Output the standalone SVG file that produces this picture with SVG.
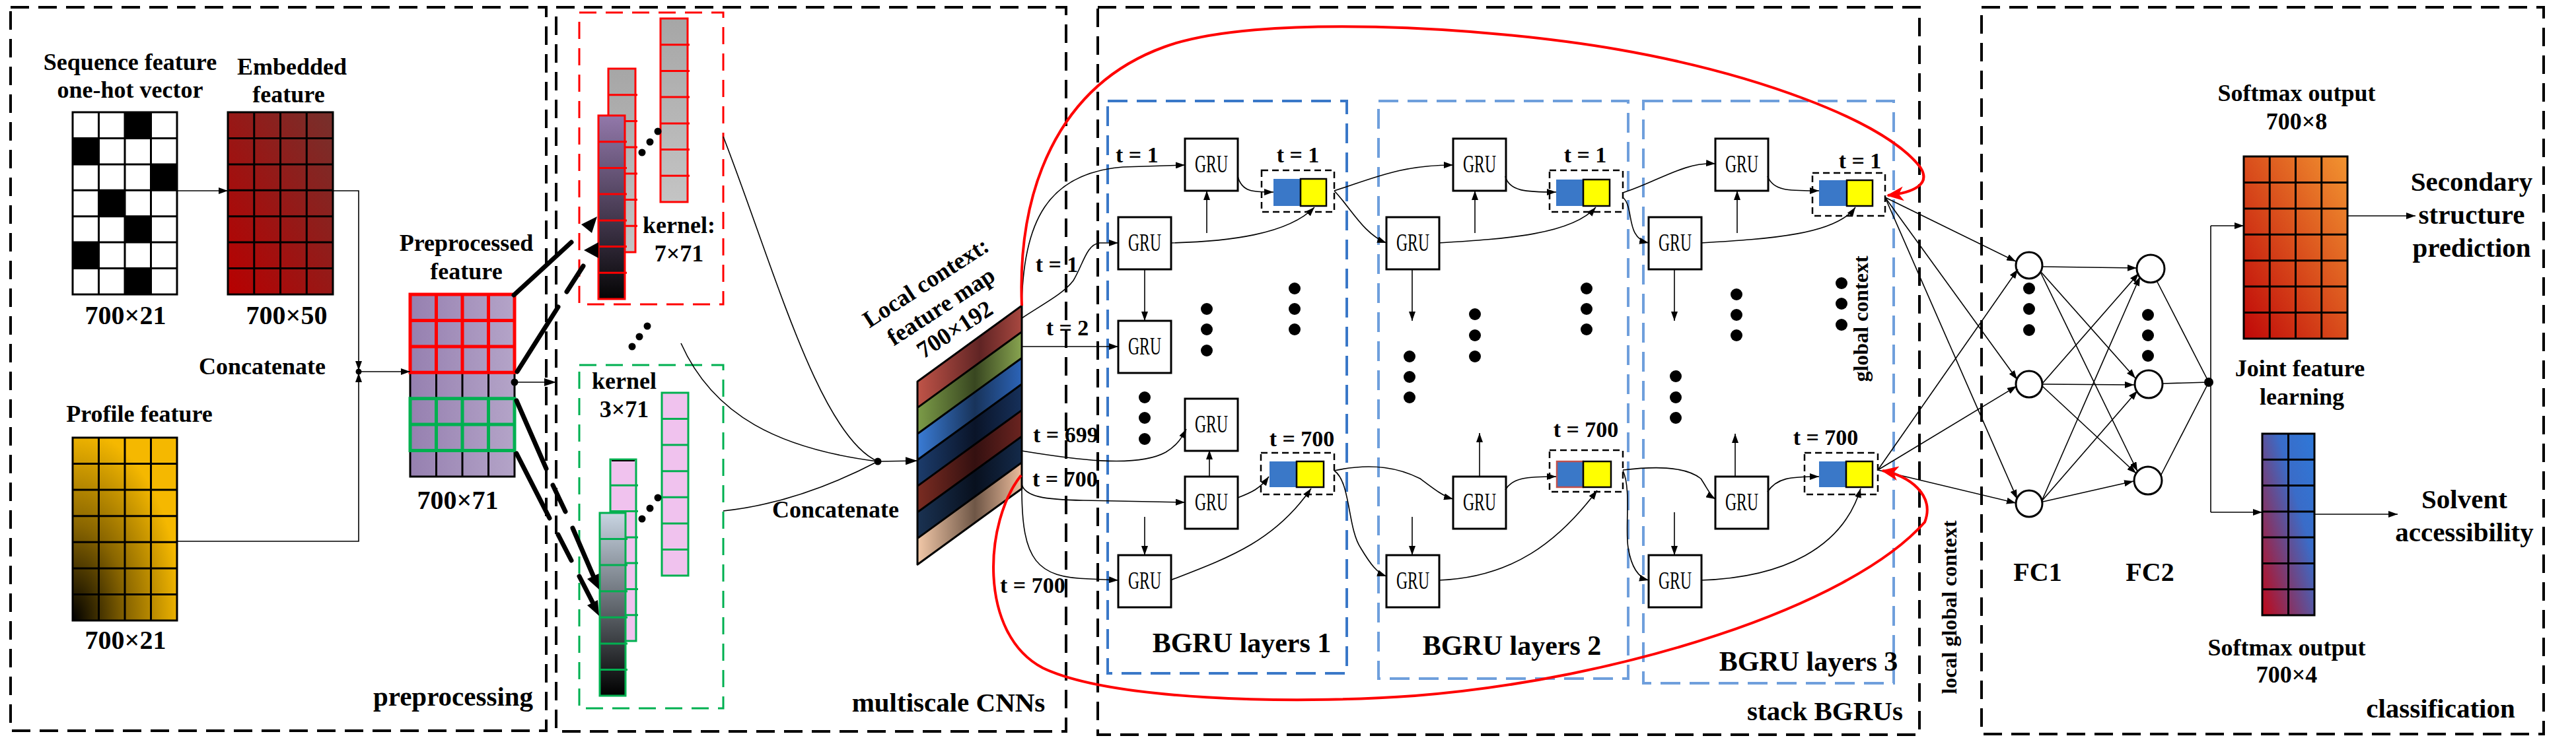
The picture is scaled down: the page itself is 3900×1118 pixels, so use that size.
<svg xmlns="http://www.w3.org/2000/svg" width="3900" height="1118" viewBox="0 0 3900 1118">
<style>
.t{font-family:"Liberation Serif","Times New Roman",serif;font-weight:bold;fill:#000}
.s36{font-size:36px}.s34{font-size:34px}.s40{font-size:40px}.s41{font-size:41px}.s42{font-size:42px}.s32{font-size:32px}
.m{text-anchor:middle}
.gru{font-family:"Liberation Serif","Times New Roman",serif;font-size:37px;text-anchor:middle}
.box{fill:none;stroke:#000;stroke-width:4;stroke-dasharray:28 14}
.rb{fill:none;stroke:#f00;stroke-width:3;stroke-dasharray:26 14}
.gb{fill:none;stroke:#00b050;stroke-width:3;stroke-dasharray:26 14}
.l1{fill:none;stroke:#3a78c8;stroke-width:4;stroke-dasharray:30 14}
.l2{fill:none;stroke:#6f9fdc;stroke-width:4;stroke-dasharray:30 14}
.ln{fill:none;stroke:#000;stroke-width:1.6}
.ar{marker-end:url(#a)}
.gr{fill:none;stroke:#000;stroke-width:3}
.g{fill:#fff;stroke:#000;stroke-width:3}
.ob{fill:none;stroke:#000;stroke-width:2.5;stroke-dasharray:10 6}
.bl{fill:#3a78c8}
.ye{fill:#ff0;stroke:#000;stroke-width:2.5}
.th{stroke:#000;stroke-width:7;stroke-linecap:round}
.red{fill:none;stroke:#f00;stroke-width:4}
.nd{fill:#fff;stroke:#000;stroke-width:3}
</style>
<defs>
<marker id="a" viewBox="0 0 14 10" refX="14" refY="5" markerWidth="14" markerHeight="10" markerUnits="userSpaceOnUse" orient="auto"><path d="M0,0L14,5L0,10z" fill="#000"/></marker>
<marker id="ab" viewBox="0 0 18 12" refX="18" refY="6" markerWidth="18" markerHeight="12" markerUnits="userSpaceOnUse" orient="auto"><path d="M0,0L18,6L0,12z" fill="#000"/></marker>
<marker id="arr" viewBox="0 0 26 22" refX="24" refY="11" markerWidth="26" markerHeight="22" markerUnits="userSpaceOnUse" orient="auto"><path d="M0,0L26,11L0,22L7,11z" fill="#f00"/></marker>
<linearGradient id="gEmb" x1="0" y1="1" x2="1" y2="0"><stop offset="0" stop-color="#b80000"/><stop offset="1" stop-color="#76302c"/></linearGradient>
<radialGradient id="gProf" cx="0" cy="1" r="1.05"><stop offset="0" stop-color="#000"/><stop offset="0.5" stop-color="#8a6600"/><stop offset="1" stop-color="#f5b800"/></radialGradient>
<linearGradient id="gPre" x1="0" y1="0" x2="1" y2="0"><stop offset="0" stop-color="#9680b0"/><stop offset="1" stop-color="#b4a4c8"/></linearGradient>
<linearGradient id="gGray" x1="0" y1="0" x2="0" y2="1"><stop offset="0" stop-color="#a6a6a6"/><stop offset="1" stop-color="#c4c4c4"/></linearGradient>
<linearGradient id="gPur" x1="0" y1="0" x2="0" y2="1"><stop offset="0" stop-color="#9278aa"/><stop offset="1" stop-color="#050505"/></linearGradient>
<linearGradient id="gGrn" x1="0" y1="0" x2="0" y2="1"><stop offset="0" stop-color="#c8d4e2"/><stop offset="1" stop-color="#000"/></linearGradient>
<linearGradient id="b0"><stop offset="0" stop-color="#c05448"/><stop offset="0.6" stop-color="#602424"/><stop offset="1" stop-color="#a84840"/></linearGradient>
<linearGradient id="b1"><stop offset="0" stop-color="#7c9c48"/><stop offset="0.55" stop-color="#384620"/><stop offset="1" stop-color="#88a450"/></linearGradient>
<linearGradient id="b2"><stop offset="0" stop-color="#3a7cd6"/><stop offset="0.55" stop-color="#18335a"/><stop offset="1" stop-color="#2c64b8"/></linearGradient>
<linearGradient id="b3"><stop offset="0" stop-color="#1c3c6c"/><stop offset="0.55" stop-color="#0a1428"/><stop offset="1" stop-color="#16305a"/></linearGradient>
<linearGradient id="b4"><stop offset="0" stop-color="#7a2c22"/><stop offset="0.55" stop-color="#341010"/><stop offset="1" stop-color="#6a2420"/></linearGradient>
<linearGradient id="b5"><stop offset="0" stop-color="#1a3252"/><stop offset="0.55" stop-color="#08101e"/><stop offset="1" stop-color="#142a4a"/></linearGradient>
<linearGradient id="b6"><stop offset="0" stop-color="#f2c8a8"/><stop offset="0.55" stop-color="#6e5646"/><stop offset="1" stop-color="#ecbc9c"/></linearGradient>
<linearGradient id="gSm1" x1="0" y1="1" x2="1" y2="0"><stop offset="0" stop-color="#c00808"/><stop offset="1" stop-color="#f29430"/></linearGradient>
<linearGradient id="gSm2" x1="0" y1="1" x2="1" y2="0"><stop offset="0" stop-color="#c00818"/><stop offset="0.65" stop-color="#3a6cc8"/><stop offset="1" stop-color="#2e78d8"/></linearGradient>
</defs>

<!-- panels -->
<g id="panels">
<rect class="box" x="16" y="11" width="811" height="1096"/>
<rect class="box" x="842" y="11" width="772" height="1097"/>
<rect class="box" x="1662" y="11" width="1244" height="1102"/>
<rect class="box" x="3000" y="11" width="851" height="1101"/>
<text class="t s41 m" x="686" y="1069">preprocessing</text>
<text class="t s41 m" x="1436" y="1078">multiscale CNNs</text>
<text class="t s41 m" x="2763" y="1091">stack BGRUs</text>
<text class="t s41 m" x="3695" y="1087">classification</text>
</g>

<!-- preprocessing -->
<g id="seq">
<text class="t s36 m" x="197" y="106">Sequence feature</text>
<text class="t s36 m" x="197" y="148">one-hot vector</text>
<rect x="110" y="170" width="158" height="276" fill="#fff"/>
<g fill="#000">
<rect x="189" y="170" width="39.5" height="39.4"/>
<rect x="110" y="209.4" width="39.5" height="39.4"/>
<rect x="228.5" y="248.9" width="39.5" height="39.4"/>
<rect x="149.5" y="288.3" width="39.5" height="39.4"/>
<rect x="189" y="327.7" width="39.5" height="39.4"/>
<rect x="110" y="367.1" width="39.5" height="39.4"/>
<rect x="189" y="406.6" width="39.5" height="39.4"/>
</g>
<path class="gr" d="M110,170h158v276h-158z M149.5,170v276 M189,170v276 M228.5,170v276 M110,209.4h158 M110,248.9h158 M110,288.3h158 M110,327.7h158 M110,367.1h158 M110,406.6h158"/>
<text class="t s40 m" x="190" y="491">700×21</text>
</g>

<g id="emb">
<text class="t s36 m" x="442" y="113">Embedded</text>
<text class="t s36 m" x="437" y="155">feature</text>
<rect x="345" y="170" width="159" height="276" fill="url(#gEmb)"/>
<path class="gr" d="M345,170h159v276h-159z M384.75,170v276 M424.5,170v276 M464.25,170v276 M345,209.4h159 M345,248.9h159 M345,288.3h159 M345,327.7h159 M345,367.1h159 M345,406.6h159"/>
<text class="t s40 m" x="434" y="491">700×50</text>
</g>

<g id="prof">
<text class="t s36 m" x="211" y="639">Profile feature</text>
<rect x="110" y="663" width="158" height="277" fill="url(#gProf)"/>
<path class="gr" d="M110,663h158v277h-158z M149.5,663v277 M189,663v277 M228.5,663v277 M110,702.6h158 M110,742.1h158 M110,781.7h158 M110,821.3h158 M110,860.9h158 M110,900.4h158"/>
<text class="t s40 m" x="190" y="983">700×21</text>
</g>

<g id="pre">
<text class="t s36 m" x="706" y="380">Preprocessed</text>
<text class="t s36 m" x="706" y="423">feature</text>
<rect x="621" y="446" width="158" height="276" fill="url(#gPre)"/>
<path class="gr" d="M621,446h158v276h-158z M660.5,446v276 M700,446v276 M739.5,446v276 M621,485.4h158 M621,524.9h158 M621,564.3h158 M621,603.7h158 M621,643.1h158 M621,682.6h158"/>
<path fill="none" stroke="#f00" stroke-width="5" d="M621,446h158v118.3h-158z M660.5,446v118.3 M700,446v118.3 M739.5,446v118.3 M621,485.4h158 M621,524.9h158"/>
<path fill="none" stroke="#00b050" stroke-width="5" d="M621,603.7h158v78.9h-158z M660.5,603.7v78.9 M700,603.7v78.9 M739.5,603.7v78.9 M621,643.1h158"/>
<text class="t s40 m" x="693" y="771">700×71</text>
</g>
<text class="t s36 m" x="397" y="567">Concatenate</text>

<!-- multiscale CNN -->
<g id="k7">
<rect class="rb" x="877" y="19" width="218" height="442"/>
<rect x="1000" y="28" width="41" height="278" fill="url(#gGray)"/>
<path fill="none" stroke="#f00" stroke-width="3" d="M1000,28h41v278h-41z M1000,67.7h44 M1000,107.4h44 M1000,147.1h44 M1000,186.9h44 M1000,226.6h44 M1000,266.3h44"/>
<rect x="921" y="104" width="41" height="278" fill="url(#gGray)"/>
<path fill="none" stroke="#f00" stroke-width="3" d="M921,104h41v278h-41z M921,143.7h44 M921,183.4h44 M921,223.1h44 M921,262.9h44 M921,302.6h44 M921,342.3h44"/>
<rect x="906" y="175" width="40" height="278" fill="url(#gPur)"/>
<path fill="none" stroke="#f00" stroke-width="3" d="M906,175h40v278h-40z M906,214.7h43 M906,254.4h43 M906,294.1h43 M906,333.9h43 M906,373.6h43 M906,413.3h43"/>
<circle cx="972" cy="231" r="5.5"/><circle cx="984" cy="215" r="5.5"/><circle cx="996" cy="199" r="5.5"/>
<text class="t s36 m" x="1028" y="353">kernel:</text>
<text class="t s36 m" x="1028" y="396">7×71</text>
</g>
<g id="kdots"><circle cx="957" cy="525" r="5.5"/><circle cx="968" cy="510" r="5.5"/><circle cx="980" cy="494" r="5.5"/></g>
<g id="k3">
<rect class="gb" x="877" y="553" width="218" height="520"/>
<rect x="1002" y="595" width="40" height="277" fill="#f0c2ee"/>
<path fill="none" stroke="#00b050" stroke-width="3" d="M1002,595h40v277h-40z M1002,634.6h40 M1002,674.1h40 M1002,713.7h40 M1002,753.3h40 M1002,792.9h40 M1002,832.4h40"/>
<rect x="924" y="696" width="39" height="275" fill="#f0c2ee"/>
<path fill="none" stroke="#00b050" stroke-width="3" d="M924,696h39v275h-39z M924,735.3h42 M924,774.6h42 M924,813.9h42 M924,853.1h42 M924,892.4h42 M924,931.7h42"/>
<line x1="926" y1="698" x2="961" y2="698" stroke="#000" stroke-width="2"/>
<rect x="908" y="777" width="39" height="277" fill="url(#gGrn)"/>
<path fill="none" stroke="#00b050" stroke-width="3" d="M908,777h39v277h-39z M908,816.6h42 M908,856.1h42 M908,895.7h42 M908,935.3h42 M908,974.9h42 M908,1014.4h42"/>
<circle cx="972" cy="786" r="5.5"/><circle cx="984" cy="770" r="5.5"/><circle cx="996" cy="754" r="5.5"/>
<text class="t s36 m" x="945" y="589">kernel</text>
<text class="t s36 m" x="945" y="632">3×71</text>
</g>

<g id="fmap">
<polygon points="1389,578 1547,463 1547,502.6 1389,617.6" fill="url(#b0)"/>
<polygon points="1389,617.6 1547,502.6 1547,542.2 1389,657.2" fill="url(#b1)"/>
<polygon points="1389,657.2 1547,542.2 1547,581.8 1389,696.8" fill="url(#b2)"/>
<polygon points="1389,696.8 1547,581.8 1547,621.4 1389,736.4" fill="url(#b3)"/>
<polygon points="1389,736.4 1547,621.4 1547,661 1389,776" fill="url(#b4)"/>
<polygon points="1389,776 1547,661 1547,700.6 1389,815.6" fill="url(#b5)"/>
<polygon points="1389,815.6 1547,700.6 1547,740.2 1389,855.2" fill="url(#b6)"/>
<path fill="none" stroke="#000" stroke-width="3" stroke-linejoin="round" d="M1389,578L1547,463V740.2L1389,855.2Z M1389,617.6L1547,502.6 M1389,657.2L1547,542.2 M1389,696.8L1547,581.8 M1389,736.4L1547,621.4 M1389,776L1547,661 M1389,815.6L1547,700.6"/>
<text class="t s36 m" transform="translate(1408,438) rotate(-33)">Local context:</text>
<text class="t s36 m" transform="translate(1431,474) rotate(-33)">feature map</text>
<text class="t s36 m" transform="translate(1452,509) rotate(-33)">700×192</text>
</g>
<text class="t s36 m" x="1265" y="784">Concatenate</text>

<!-- t labels -->
<g id="tlabels">
<text class="t s34 m" x="1600" y="412">t = 1</text>
<text class="t s34 m" x="1616" y="508">t = 2</text>
<text class="t s34" x="1564" y="670">t = 699</text>
<text class="t s34" x="1563" y="737">t = 700</text>
<text class="t s34" x="1514" y="898">t = 700</text>
<text class="t s34" x="1689" y="246">t = 1</text>
</g>

<!-- BGRU layers -->
<g id="bgru1">
<rect class="l1" x="1677" y="153" width="362" height="867"/>
<text class="t s42 m" x="1880" y="988">BGRU layers 1</text>
</g>
<g id="bgru2">
<rect class="l2" x="2087" y="153" width="378" height="875"/>
<text class="t s42 m" x="2289" y="992">BGRU layers 2</text>
</g>
<g id="bgru3">
<rect class="l2" x="2488" y="153" width="379" height="882"/>
<text class="t s42 m" x="2738" y="1016">BGRU layers 3</text>
</g>

<g id="gru-nodes">
<g id="G1a"><rect class="g" x="1794" y="210" width="80" height="79"/><text class="gru" x="1834" y="261" textLength="50" lengthAdjust="spacingAndGlyphs">GRU</text></g>
<g id="G1b"><rect class="g" x="1693" y="329" width="80" height="79"/><text class="gru" x="1733" y="380" textLength="50" lengthAdjust="spacingAndGlyphs">GRU</text></g>
<g id="G1c"><rect class="g" x="1693" y="486" width="80" height="79"/><text class="gru" x="1733" y="537" textLength="50" lengthAdjust="spacingAndGlyphs">GRU</text></g>
<g id="G1d"><rect class="g" x="1794" y="604" width="80" height="79"/><text class="gru" x="1834" y="655" textLength="50" lengthAdjust="spacingAndGlyphs">GRU</text></g>
<g id="G1e"><rect class="g" x="1794" y="722" width="80" height="79"/><text class="gru" x="1834" y="773" textLength="50" lengthAdjust="spacingAndGlyphs">GRU</text></g>
<g id="G1f"><rect class="g" x="1693" y="841" width="80" height="79"/><text class="gru" x="1733" y="892" textLength="50" lengthAdjust="spacingAndGlyphs">GRU</text></g>
<g id="G2a"><rect class="g" x="2200" y="210" width="80" height="79"/><text class="gru" x="2240" y="261" textLength="50" lengthAdjust="spacingAndGlyphs">GRU</text></g>
<g id="G2b"><rect class="g" x="2099" y="329" width="80" height="79"/><text class="gru" x="2139" y="380" textLength="50" lengthAdjust="spacingAndGlyphs">GRU</text></g>
<g id="G2e"><rect class="g" x="2200" y="722" width="80" height="79"/><text class="gru" x="2240" y="773" textLength="50" lengthAdjust="spacingAndGlyphs">GRU</text></g>
<g id="G2f"><rect class="g" x="2099" y="841" width="80" height="79"/><text class="gru" x="2139" y="892" textLength="50" lengthAdjust="spacingAndGlyphs">GRU</text></g>
<g id="G3a"><rect class="g" x="2597" y="210" width="80" height="79"/><text class="gru" x="2637" y="261" textLength="50" lengthAdjust="spacingAndGlyphs">GRU</text></g>
<g id="G3b"><rect class="g" x="2496" y="329" width="80" height="79"/><text class="gru" x="2536" y="380" textLength="50" lengthAdjust="spacingAndGlyphs">GRU</text></g>
<g id="G3e"><rect class="g" x="2597" y="722" width="80" height="79"/><text class="gru" x="2637" y="773" textLength="50" lengthAdjust="spacingAndGlyphs">GRU</text></g>
<g id="G3f"><rect class="g" x="2496" y="841" width="80" height="79"/><text class="gru" x="2536" y="892" textLength="50" lengthAdjust="spacingAndGlyphs">GRU</text></g>
</g>

<g id="outputs">
<g id="O1a"><rect class="ob" x="1910" y="258" width="110" height="63"/><rect class="bl" x="1928" y="271" width="41" height="41"/><rect class="ye" x="1969" y="271" width="39" height="41"/><text class="t s34 m" x="1965" y="246">t = 1</text></g>
<g id="O1b"><rect class="ob" x="1909" y="686" width="111" height="63"/><rect class="bl" x="1922" y="699" width="41" height="39"/><rect class="ye" x="1963" y="699" width="41" height="39"/><text class="t s34 m" x="1971" y="676">t = 700</text></g>
<g id="O2a"><rect class="ob" x="2346" y="258" width="111" height="63"/><rect class="bl" x="2356" y="272" width="41" height="40"/><rect class="ye" x="2397" y="272" width="40" height="40"/><text class="t s34 m" x="2400" y="246">t = 1</text></g>
<g id="O2b"><rect class="ob" x="2346" y="682" width="111" height="63"/><rect class="bl" x="2357" y="699" width="40" height="39" stroke="#c0504d" stroke-width="2.5"/><rect class="ye" x="2397" y="699" width="42" height="39"/><text class="t s34 m" x="2401" y="662">t = 700</text></g>
<g id="O3a"><rect class="ob" x="2744" y="262" width="110" height="65"/><rect class="bl" x="2754" y="273" width="42" height="39"/><rect class="ye" x="2796" y="273" width="39" height="39"/><text class="t s34 m" x="2816" y="255">t = 1</text></g>
<g id="O3b"><rect class="ob" x="2732" y="686" width="111" height="63"/><rect class="bl" x="2754" y="699" width="41" height="39"/><rect class="ye" x="2795" y="699" width="40" height="39"/><text class="t s34 m" x="2764" y="674">t = 700</text></g>
</g>

<g id="ellipses">
<circle cx="1827" cy="468" r="9"/><circle cx="1827" cy="499" r="9"/><circle cx="1827" cy="531" r="9"/>
<circle cx="1733" cy="602" r="9"/><circle cx="1733" cy="633" r="9"/><circle cx="1733" cy="665" r="9"/>
<circle cx="1960" cy="437" r="9"/><circle cx="1960" cy="468" r="9"/><circle cx="1960" cy="499" r="9"/>
<circle cx="2134" cy="540" r="9"/><circle cx="2134" cy="571" r="9"/><circle cx="2134" cy="602" r="9"/>
<circle cx="2233" cy="476" r="9"/><circle cx="2233" cy="508" r="9"/><circle cx="2233" cy="540" r="9"/>
<circle cx="2402" cy="437" r="9"/><circle cx="2402" cy="468" r="9"/><circle cx="2402" cy="499" r="9"/>
<circle cx="2537" cy="570" r="9"/><circle cx="2537" cy="602" r="9"/><circle cx="2537" cy="633" r="9"/>
<circle cx="2629" cy="446" r="9"/><circle cx="2629" cy="477" r="9"/><circle cx="2629" cy="508" r="9"/>
<circle cx="2788" cy="429" r="9"/><circle cx="2788" cy="460" r="9"/><circle cx="2788" cy="492" r="9"/>
<circle cx="3072" cy="437" r="9"/><circle cx="3072" cy="468" r="9"/><circle cx="3072" cy="500" r="9"/>
<circle cx="3252" cy="477" r="9"/><circle cx="3252" cy="508" r="9"/><circle cx="3252" cy="539" r="9"/>
</g>
<text class="t s32 m" transform="translate(2828,483) rotate(-90)">global context</text>
<text class="t s32 m" transform="translate(2962,920) rotate(-90)">local global context</text>

<!-- classification -->
<g id="fc">
<circle class="nd" cx="3072" cy="402" r="20"/>
<circle class="nd" cx="3072" cy="582" r="20"/>
<circle class="nd" cx="3072" cy="763" r="20"/>
<circle class="nd" cx="3256" cy="407" r="21"/>
<circle class="nd" cx="3253" cy="582" r="21"/>
<circle class="nd" cx="3252" cy="728" r="21"/>
<text class="t s40 m" x="3085" y="880">FC1</text>
<text class="t s40 m" x="3255" y="880">FC2</text>
</g>
<g id="sm1">
<text class="t s36 m" x="3477" y="153">Softmax output</text>
<text class="t s36 m" x="3477" y="196">700×8</text>
<rect x="3397" y="237" width="157" height="276" fill="url(#gSm1)"/>
<path class="gr" d="M3397,237h157v276h-157z M3436.25,237v276 M3475.5,237v276 M3514.75,237v276 M3397,276.4h157 M3397,315.9h157 M3397,355.3h157 M3397,394.7h157 M3397,434.1h157 M3397,473.6h157"/>
</g>
<g id="sm2">
<rect x="3425" y="657" width="79" height="275" fill="url(#gSm2)"/>
<path class="gr" d="M3425,657h79v275h-79z M3464.5,657v275 M3425,696.3h79 M3425,735.6h79 M3425,774.9h79 M3425,814.1h79 M3425,853.4h79 M3425,892.7h79"/>
<text class="t s36 m" x="3462" y="993">Softmax output</text>
<text class="t s36 m" x="3462" y="1034">700×4</text>
</g>
<text class="t s36 m" x="3482" y="570">Joint feature</text>
<text class="t s36 m" x="3485" y="613">learning</text>
<g id="ss"><text class="t s41 m" x="3742" y="289">Secondary</text><text class="t s41 m" x="3742" y="339">structure</text><text class="t s41 m" x="3742" y="389">prediction</text></g>
<g id="sa"><text class="t s41 m" x="3731" y="770">Solvent</text><text class="t s41 m" x="3731" y="820">accessibility</text></g>

<!-- connectors -->
<g id="connectors">
<line class="ln ar" x1="268" y1="289" x2="345" y2="289"/>
<path class="ln ar" d="M504,289H543V561"/>
<path class="ln ar" d="M268,820H543V565"/>
<circle cx="543" cy="563" r="4.5"/>
<line class="ln ar" x1="543" y1="563" x2="621" y2="563"/>
<circle cx="779" cy="579" r="5.5"/>
<line class="ln" x1="779" y1="579" x2="842" y2="579" marker-end="url(#ab)"/>
<line class="th" x1="778" y1="447" x2="865" y2="367"/>
<polygon points="904,328 880,340 896,353"/>
<line class="th" x1="783" y1="563" x2="845" y2="465"/>
<line class="th" x1="858" y1="442" x2="883" y2="403"/>
<polygon points="884,379 906,367 906,391"/>
<line class="th" x1="782" y1="607" x2="827" y2="710"/>
<line class="th" x1="837" y1="735" x2="856" y2="775"/>
<line class="th" x1="867" y1="800" x2="898" y2="872"/>
<polygon points="907,893 906.6,869 889,877"/>
<line class="th" x1="782" y1="687" x2="832" y2="785"/>
<line class="th" x1="845" y1="810" x2="865" y2="849"/>
<line class="th" x1="877" y1="873" x2="898" y2="914"/>
<polygon points="907,933 905,909 889,917"/>

<path class="ln" d="M1095,207C1170,400 1240,660 1329,699"/>
<path class="ln" d="M1031,520C1080,630 1180,680 1329,699"/>
<path class="ln" d="M1095,774C1180,765 1260,735 1329,699"/>
<circle cx="1329" cy="699" r="5.5"/>
<line class="ln" x1="1329" y1="699" x2="1389" y2="698" marker-end="url(#ab)"/>

<path class="ln ar" d="M1547,481C1545,330 1590,262 1700,253L1794,250"/>
<path class="ln ar" d="M1547,482C1580,460 1610,445 1625,425C1640,400 1645,370 1665,368L1693,368"/>
<path class="ln ar" d="M1547,525H1693"/>
<path class="ln ar" d="M1547,683C1620,695 1720,710 1765,685C1782,675 1790,662 1796,650"/>
<path class="ln ar" d="M1547,734C1552,752 1580,757 1640,758L1794,761"/>
<path class="ln ar" d="M1547,741C1547,850 1570,875 1650,877L1693,879"/>

<path class="ln ar" d="M1874,267C1880,292 1900,291 1928,291"/>
<path class="ln ar" d="M1772,368C1860,366 1950,355 1990,314"/>
<path class="ln ar" d="M1827,353V289"/>
<path class="ln ar" d="M1733,407V486"/>
<path class="ln ar" d="M1831,722V682"/>
<path class="ln ar" d="M1874,754C1895,746 1908,740 1921,722"/>
<path class="ln ar" d="M1772,879C1860,845 1930,820 1985,740"/>
<path class="ln ar" d="M1733,783V841"/>

<path class="ln ar" d="M2020,289C2080,270 2120,250 2200,250"/>
<path class="ln ar" d="M2020,289C2045,315 2065,355 2099,368"/>
<path class="ln ar" d="M2279,267C2285,290 2310,291 2356,291"/>
<path class="ln ar" d="M2178,368C2280,362 2380,355 2416,314"/>
<path class="ln ar" d="M2233,353V289"/>
<path class="ln ar" d="M2138,407V486"/>
<path class="ln ar" d="M2240,722V656"/>
<path class="ln ar" d="M2020,713C2080,700 2120,710 2150,725C2170,740 2185,752 2200,756"/>
<path class="ln ar" d="M2020,713C2045,730 2040,800 2060,830C2075,855 2085,868 2099,873"/>
<path class="ln ar" d="M2279,742C2290,724 2310,722 2356,722"/>
<path class="ln ar" d="M2178,879C2290,875 2360,820 2418,743"/>
<path class="ln ar" d="M2138,783V841"/>

<path class="ln ar" d="M2457,292C2510,275 2550,245 2597,248"/>
<path class="ln ar" d="M2457,299C2475,315 2460,360 2496,368"/>
<path class="ln ar" d="M2676,267C2685,290 2710,289 2754,289"/>
<path class="ln ar" d="M2575,368C2680,362 2780,355 2809,314"/>
<path class="ln ar" d="M2630,353V289"/>
<path class="ln ar" d="M2535,407V486"/>
<path class="ln ar" d="M2627,722V657"/>
<path class="ln ar" d="M2457,712C2500,707 2550,705 2575,725C2585,740 2590,752 2597,756"/>
<path class="ln ar" d="M2457,713C2470,740 2460,800 2465,830C2470,860 2480,875 2496,879"/>
<path class="ln ar" d="M2676,745C2690,724 2710,722 2754,722"/>
<path class="ln ar" d="M2575,879C2700,875 2790,830 2817,740"/>
<path class="ln ar" d="M2535,776V841" stroke-width="2.5"/>

<path class="ln ar" d="M2854,299L3052,396"/>
<path class="ln ar" d="M2854,299L3054,575"/>
<path class="ln ar" d="M2854,299L3054,756"/>
<path class="ln ar" d="M2843,712L3055,408"/>
<path class="ln ar" d="M2843,712L3053,585"/>
<path class="ln ar" d="M2843,712L3052,762"/>

<path class="ln ar" d="M3092,404L3235,406"/>
<path class="ln ar" d="M3090,412L3233,573"/>
<path class="ln ar" d="M3090,414L3236,714"/>
<path class="ln ar" d="M3092,581L3238,414"/>
<path class="ln ar" d="M3093,582L3231,583"/>
<path class="ln ar" d="M3092,585L3234,717"/>
<path class="ln ar" d="M3092,757L3240,419"/>
<path class="ln ar" d="M3092,758L3236,592"/>
<path class="ln ar" d="M3093,760L3230,729"/>

<path class="ln" d="M3265,425L3344,579 M3274,581L3344,579 M3272,719L3344,579"/>
<circle cx="3344" cy="579" r="7"/>
<path class="ln" d="M3347,342V776"/>
<path class="ln ar" d="M3347,342H3397"/>
<path class="ln ar" d="M3347,776H3425"/>
<path class="ln ar" d="M3554,327H3657"/>
<path class="ln ar" d="M3504,779H3630"/>

<path class="red" marker-end="url(#arr)" d="M1547,463C1540,290 1600,130 1763,71C1900,20 2250,40 2450,75C2650,110 2850,180 2907,253C2925,280 2895,292 2858,296"/>
<path class="red" marker-end="url(#arr)" d="M1546,720C1490,790 1480,960 1579,1012C1680,1060 1950,1068 2142,1054C2450,1030 2800,920 2914,791C2930,750 2890,720 2850,713"/>
</g>
</svg>
